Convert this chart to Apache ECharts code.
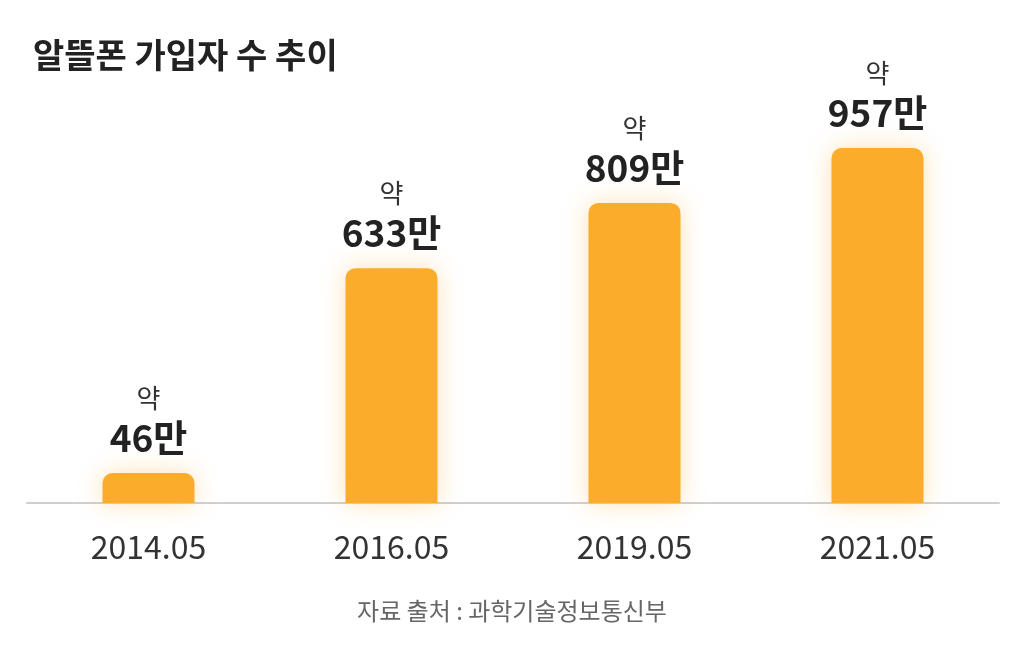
<!DOCTYPE html>
<html><head><meta charset="utf-8">
<script src="https://cdn.jsdelivr.net/npm/echarts@6/dist/echarts.min.js"></script>
<style>html,body{margin:0;padding:0;background:#fff}#c{width:1024px;height:654px}</style>
</head><body><div id="c"></div>
<script>
const categories = ['2014.05', '2016.05', '2019.05', '2021.05'];
const subscribers = [46, 633, 809, 957]; // 만 명
const titleText = '알뜰폰 가입자 수 추이';
const sourceText = '자료 출처 : 과학기술정보통신부';

const FONT = '"Noto Sans CJK KR", "Noto Sans", sans-serif';
const chart = echarts.init(document.getElementById('c'), null, {renderer: 'canvas'});
chart.setOption({
  backgroundColor: '#fff',
  animation: false,
  title: [
    {text: titleText, left: 28, top: 33, textStyle: {fontFamily: FONT, fontSize: 34, fontWeight: 'bold', color: '#222'}},
    {text: sourceText, left: 'center', top: 594, textStyle: {fontFamily: FONT, fontSize: 24, fontWeight: 'normal', color: '#666'}}
  ],
  grid: {left: 27, right: 25, top: 148, bottom: 151},
  xAxis: {
    type: 'category', data: categories,
    axisLine: {lineStyle: {color: '#cfcfcf', width: 2}},
    axisTick: {show: false},
    axisLabel: {fontFamily: FONT, fontSize: 32, color: '#333', margin: 28}
  },
  yAxis: {type: 'value', min: 0, max: 957, show: false, splitLine: {show: false}},
  series: [{
    type: 'bar', data: subscribers, barWidth: 92, barMinHeight: 30,
    itemStyle: {color: '#FBAC2B', borderRadius: [10, 10, 0, 0], shadowColor: 'rgba(251,172,43,0.35)', shadowBlur: 24},
    label: {
      show: true, position: 'top', distance: 14,
      formatter: p => '{a|약}\n{b|' + p.value + '만}',
      rich: {
        a: {fontFamily: FONT, fontSize: 26, color: '#333', lineHeight: 38, align: 'center'},
        b: {fontFamily: FONT, fontSize: 37, fontWeight: 'bold', color: '#222', lineHeight: 42, align: 'center'}
      }
    }
  }]
});
</script></body></html>
